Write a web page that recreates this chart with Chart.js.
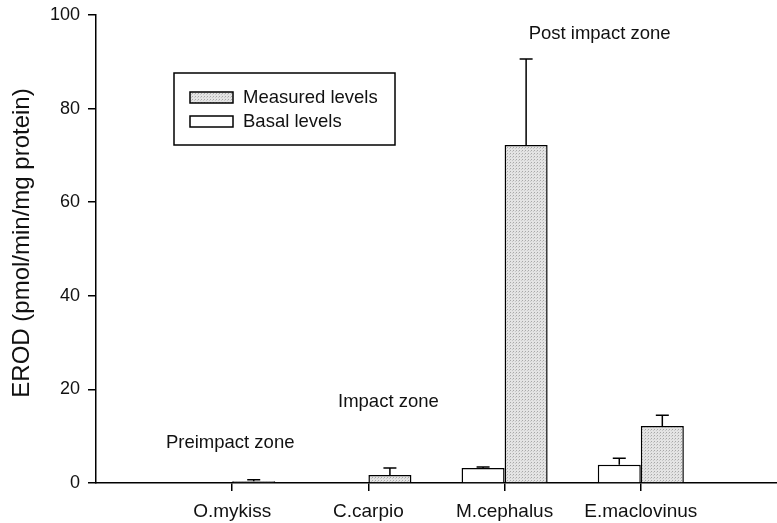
<!DOCTYPE html>
<html>
<head>
<meta charset="utf-8">
<script src="https://cdn.jsdelivr.net/npm/chart.js@4.4.1/dist/chart.umd.min.js"></script>
<style>
  html, body { margin: 0; padding: 0; background: #fff; }
  #wrap { width: 777px; height: 523px; }
</style>
</head>
<body>
<div id="wrap"><canvas id="erod-chart"></canvas></div>
<script>
// species, padded with an empty slot at each end so ticks fall like the original
const species = ['', 'O.mykiss', 'C.carpio', 'M.cephalus', 'E.maclovinus', ''];
const basalLevels = [null, 0, 0, 3.2, 3.9, null];
const basalErr = [null, 0, 0, 0.2, 1.4, null];
const measuredLevels = [null, 0.4, 1.7, 72.2, 12.2, null];
const measuredErr = [null, 0.3, 1.5, 18.4, 2.3, null];
const yTicks = [0, 20, 40, 60, 80, 100];
const yTitle = 'EROD (pmol/min/mg protein)';

// zone captions: [text, category index, x shift px, y value]
const zones = [
    ['Preimpact zone', 1, -2, 8.5],
    ['Impact zone', 2, 20, 17.3],
    ['Post impact zone', 3, 95, 96]
];

const FONT = '"Liberation Sans", Arial, sans-serif';

// stippled grey fill
function makeStipple() {
    const c = document.createElement('canvas');
    c.width = 3; c.height = 3;
    const g = c.getContext('2d');
    g.fillStyle = '#e4e4e4';
    g.fillRect(0, 0, 3, 3);
    g.fillStyle = '#a8a8a8';
    g.fillRect(0, 0, 1, 1);
    g.fillStyle = '#c8c8c8';
    g.fillRect(2, 1, 1, 1);
    return g.createPattern(c, 'repeat');
}
const stipple = makeStipple();

const errorBars = {
    id: 'errorBars',
    afterDatasetsDraw(chart) {
        const ctx = chart.ctx;
        const y = chart.scales.y;
        const errs = [basalErr, measuredErr];
        ctx.save();
        ctx.strokeStyle = '#000';
        ctx.lineWidth = 1.5;
        chart.data.datasets.forEach((ds, di) => {
            const meta = chart.getDatasetMeta(di);
            meta.data.forEach((bar, i) => {
                const v = ds.data[i];
                const e = errs[di][i];
                if (v == null || !e) return;
                const top = y.getPixelForValue(v);
                const tip = y.getPixelForValue(v + e);
                ctx.beginPath();
                ctx.moveTo(bar.x, top);
                ctx.lineTo(bar.x, tip);
                ctx.moveTo(bar.x - 6.5, tip);
                ctx.lineTo(bar.x + 6.5, tip);
                ctx.stroke();
            });
        });
        ctx.restore();
    }
};

const captions = {
    id: 'captions',
    afterDraw(chart) {
        const ctx = chart.ctx;
        const x = chart.scales.x;
        const y = chart.scales.y;
        ctx.save();
        ctx.fillStyle = '#111';
        ctx.font = '18.5px ' + FONT;
        ctx.textAlign = 'center';
        ctx.textBaseline = 'middle';
        zones.forEach(z => {
            ctx.fillText(z[0], x.getPixelForValue(z[1]) + z[2], y.getPixelForValue(z[3]));
        });

        // y axis title, a bit above the middle like the original
        ctx.save();
        ctx.translate(22, 243);
        ctx.rotate(-Math.PI / 2);
        ctx.font = '24px ' + FONT;
        ctx.fillText(yTitle, 0, 0);
        ctx.restore();

        // boxed legend
        ctx.strokeStyle = '#000';
        ctx.lineWidth = 1.5;
        ctx.strokeRect(174, 73, 221, 72);
        const rows = [
            [chart.data.datasets[1].label, stipple, 97],
            [chart.data.datasets[0].label, '#fff', 121]
        ];
        ctx.textAlign = 'left';
        ctx.font = '18.5px ' + FONT;
        rows.forEach(r => {
            ctx.fillStyle = r[1];
            ctx.fillRect(190, r[2] - 5, 43, 11);
            ctx.strokeRect(190, r[2] - 5, 43, 11);
            ctx.fillStyle = '#111';
            ctx.fillText(r[0], 243, r[2] + 1);
        });
        ctx.restore();
    }
};

const erodChart = new Chart(document.getElementById('erod-chart').getContext('2d'), {
    type: 'bar',
    data: {
        labels: species,
        datasets: [
            {
                label: 'Basal levels',
                data: basalLevels,
                backgroundColor: '#fff',
                borderColor: '#000',
                borderWidth: 1.5,
                borderSkipped: 'start'
            },
            {
                label: 'Measured levels',
                data: measuredLevels,
                backgroundColor: stipple,
                borderColor: '#000',
                borderWidth: 1.5,
                borderSkipped: 'start'
            }
        ]
    },
    options: {
        responsive: true,
        maintainAspectRatio: false,
        animation: false,
        categoryPercentage: 0.632,
        barPercentage: 1,
        layout: { padding: { top: 15, right: 0, left: 0, bottom: 0 } },
        plugins: {
            legend: { display: false },
            tooltip: { enabled: false }
        },
        scales: {
            x: {
                offset: false,
                border: { display: true, color: '#000', width: 1.5 },
                grid: {
                    offset: false,
                    drawOnChartArea: false,
                    tickLength: 8,
                    lineWidth: 1.5,
                    color: (c) => (c.index >= 1 && c.index <= 4) ? '#000' : 'rgba(0,0,0,0)'
                },
                ticks: {
                    autoSkip: false,
                    maxRotation: 0,
                    padding: 9,
                    color: '#111',
                    font: { family: FONT, size: 19 }
                },
                afterFit: (s) => { s.height = 40; s.paddingRight = 0; }
            },
            y: {
                min: 0,
                max: 100,
                border: { display: true, color: '#000', width: 1.5 },
                grid: {
                    drawOnChartArea: false,
                    tickLength: 8,
                    lineWidth: 1.5,
                    color: '#000'
                },
                afterBuildTicks: (s) => { s.ticks = yTicks.map(v => ({ value: v })); },
                ticks: {
                    padding: 8,
                    color: '#111',
                    font: { family: FONT, size: 18 }
                },
                afterFit: (s) => { s.width = 96; s.paddingTop = 0; }
            }
        }
    },
    plugins: [errorBars, captions]
});
</script>
</body>
</html>
